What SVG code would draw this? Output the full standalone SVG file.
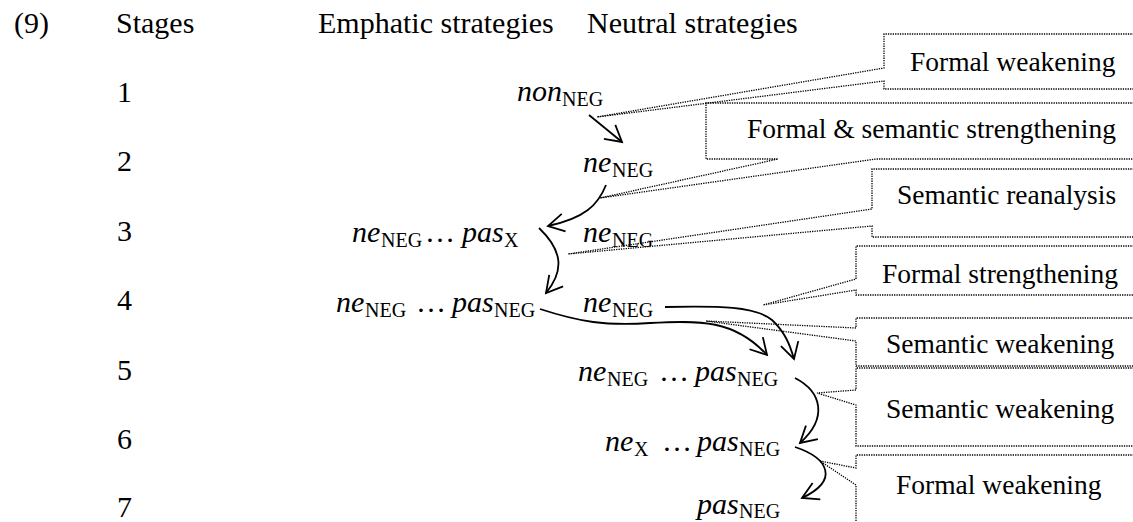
<svg xmlns="http://www.w3.org/2000/svg" width="1133" height="522" viewBox="0 0 1133 522">
<style>
text{font-family:"Liberation Serif","Times New Roman",serif;fill:#000}
.h{font-size:30px}
.m{font-size:30px}
.i{font-style:italic}
.s{font-size:20px}
.lb{font-size:27.5px}
.callout{fill:none;stroke:#000;stroke-width:1.3;stroke-dasharray:1.3 1.1}
.arr{fill:none;stroke:#000;stroke-width:1.8;marker-end:url(#ah)}
</style>
<defs>
<marker id="ah" markerUnits="userSpaceOnUse" markerWidth="40" markerHeight="40" viewBox="-20 -20 40 40" refX="0" refY="0" orient="auto">
<path d="M-16,-9 L0,0 L-16,9" fill="none" stroke="#000" stroke-width="1.8"/>
</marker>
</defs>
<rect width="1133" height="522" fill="#fff"/>

<g id="header">
<text class="h" x="14" y="33">(9)</text>
<text class="h" x="116" y="33">Stages</text>
<text class="h" x="318" y="33">Emphatic strategies</text>
<text class="h" x="587" y="33">Neutral strategies</text>
</g>

<g id="stages">
<text class="m" x="117" y="102">1</text>
<text class="m" x="117" y="171">2</text>
<text class="m" x="117" y="241">3</text>
<text class="m" x="117" y="310">4</text>
<text class="m" x="117" y="380">5</text>
<text class="m" x="117" y="449">6</text>
<text class="m" x="117" y="517">7</text>
</g>

<g id="n1"><text class="m" y="101"><tspan class="i" x="517">non</tspan><tspan class="s" x="562" dy="5">NEG</tspan></text></g>
<g id="n2"><text class="m" y="172"><tspan class="i" x="583">ne</tspan><tspan class="s" x="612" dy="5">NEG</tspan></text></g>
<g id="n3e"><text class="m" y="242"><tspan class="i" x="352">ne</tspan><tspan class="s" x="381" dy="5">NEG</tspan><tspan x="425" dy="-5">…</tspan><tspan class="i" x="462">pas</tspan><tspan class="s" x="504" dy="5">X</tspan></text></g>
<g id="n3n"><text class="m" y="242"><tspan class="i" x="583">ne</tspan><tspan class="s" x="612" dy="5">NEG</tspan></text></g>
<g id="n4e"><text class="m" y="312"><tspan class="i" x="336">ne</tspan><tspan class="s" x="365" dy="5">NEG</tspan><tspan x="416" dy="-5">…</tspan><tspan class="i" x="452">pas</tspan><tspan class="s" x="494" dy="5">NEG</tspan></text></g>
<g id="n4n"><text class="m" y="312"><tspan class="i" x="583">ne</tspan><tspan class="s" x="612" dy="5">NEG</tspan></text></g>
<g id="n5"><text class="m" y="381"><tspan class="i" x="578">ne</tspan><tspan class="s" x="607" dy="5">NEG</tspan><tspan x="659" dy="-5">…</tspan><tspan class="i" x="695">pas</tspan><tspan class="s" x="737" dy="5">NEG</tspan></text></g>
<g id="n6"><text class="m" y="451"><tspan class="i" x="605">ne</tspan><tspan class="s" x="634" dy="5">X</tspan><tspan x="662" dy="-5">…</tspan><tspan class="i" x="697">pas</tspan><tspan class="s" x="739" dy="5">NEG</tspan></text></g>
<g id="n7"><text class="m" y="514"><tspan class="i" x="697">pas</tspan><tspan class="s" x="739" dy="4">NEG</tspan></text></g>

<g id="c1"><path class="callout" d="M1134,34 H884 V68 L597,117 L884,81 V89 H1134"/><text class="lb" x="910" y="71">Formal weakening</text></g>
<g id="c2"><path class="callout" d="M1134,103 H706 V159 H778 L600,198 L876,159 H1134"/><text class="lb" x="747" y="138">Formal &amp; semantic strengthening</text></g>
<g id="c3"><path class="callout" d="M1134,169 H872 V209 L568,254 L872,226 V237 H1134"/><text class="lb" x="897" y="204">Semantic reanalysis</text></g>
<g id="c4"><path class="callout" d="M1134,246 H856 V279 L763,305 L856,290 V295 H1134"/><text class="lb" x="882" y="283">Formal strengthening</text></g>
<g id="c5"><path class="callout" d="M1134,318 H856 V328 L706,321 L856,341 V366 H1134"/><text class="lb" x="886" y="353">Semantic weakening</text></g>
<g id="c6"><path class="callout" d="M1134,368 H856 V390 L817,393 L856,405 V446 H1134"/><text class="lb" x="886" y="418">Semantic weakening</text></g>
<g id="c7"><path class="callout" d="M1134,455 H856 V468 L820,461 L856,485 V524"/><text class="lb" x="896" y="494">Formal weakening</text></g>

<g id="connectors">
<path class="arr" d="M589,115 L622,142"/>
<path class="arr" d="M606,185 C598,205 585,218 548,226"/>
<path class="arr" d="M539,228 C562,250 565,270 546,293"/>
<path class="arr" d="M540,309 C580,322 605,326 650,323 C700,320 735,320 767,355"/>
<path class="arr" d="M665,307 C720,306 755,306 772,320 C785,332 790,345 794,359"/>
<path class="arr" d="M795,378 C822,392 828,418 800,443"/>
<path class="arr" d="M795,447 C828,458 840,480 802,498"/>
</g>
</svg>
